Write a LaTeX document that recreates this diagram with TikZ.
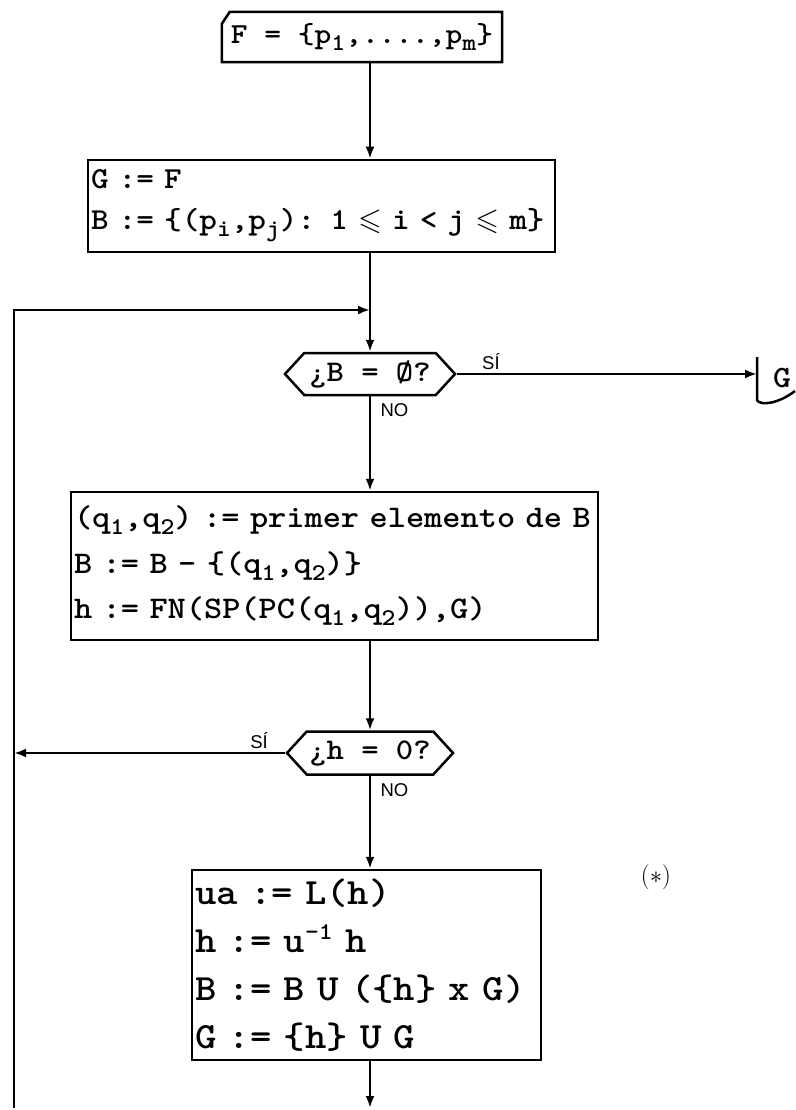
\documentclass[tikz,border=0pt]{standalone}
\usepackage{amsmath,amssymb}
\usepackage{fontspec}
\setsansfont{Liberation Sans}
\newfontfamily\typed{lmmonolt10-bold.otf}[FakeStretch=1.1]
\usepackage{tikz}
\usetikzlibrary{arrows.meta,positioning,shapes.symbols}

% typed indices and relation
\newcommand{\lowidx}[1]{\raisebox{-0.22em}{\fontsize{24}{24}\selectfont #1}}
\newcommand{\highidx}[1]{\raisebox{0.35em}{\fontsize{24}{24}\selectfont #1}}
\newcommand{\typedle}{\mbox{\boldmath$\leqslant$}}

\tikzset{
  stmt/.style={draw, line width=2.5pt, rectangle, align=left, inner xsep=3pt, inner ysep=0pt},
  test/.style={draw, line width=2.5pt, signal, signal to=west and east, signal pointer angle=95,
    inner sep=0pt, font=\typed\fontsize{30}{30}\selectfont},
  flow/.style={line width=2.5pt, -{Latex[length=12pt,width=9pt]}},
  answer/.style={font=\sffamily\fontsize{18.5}{18.5}\selectfont},
}

\begin{document}
\begin{tikzpicture}[x=1pt,y=-1pt]
    \useasboundingbox (0,0) rectangle (795,1110);
    % helper points
    \coordinate (axis) at (370,0);
    \coordinate (join) at (370,310);
    \coordinate (loopend) at (14,1108);
    \coordinate (exit) at (370,1108);
    \coordinate (gin) at (757,374);
    % Input
    \node[minimum width=280, minimum height=50, inner sep=0pt,
      font=\typed\fontsize{29}{29}\selectfont] (F) at (362,37)
      {F = \{p\lowidx{1},....,p\lowidx{m}\}};
    \draw[line width=2.5pt] ([shift={(0,12)}]F.north west) -- (F.south west) -- (F.south east)
      -- (F.north east) -- ([shift={(8,0)}]F.north west) -- cycle;
    % Initialisation
    \node[stmt, minimum width=467, minimum height=92, text width=461,
      font=\typed\fontsize{30.5}{41}\selectfont] (B2) at (321.5,206)
      {G := F\\B := \{(p\lowidx{i},p\lowidx{j}): 1 \typedle{} i < j \typedle{} m\}};
    % First test
    \node[test, minimum width=170, minimum height=42] (D1) at (370,374) {¿B = Ø?};
    % Pair step
    \node[stmt, minimum width=527, minimum height=148, text width=521,
      font=\typed\fontsize{31.5}{45.5}\selectfont] (B3) at (334.5,566)
      {(q\lowidx{1},q\lowidx{2}) := primer elemento de B\\
       B := B - \{(q\lowidx{1},q\lowidx{2})\}\\
       h := FN(SP(PC(q\lowidx{1},q\lowidx{2})),G)};
    % Second test
    \node[test, minimum width=166, minimum height=43] (D2) at (370,753) {¿h = 0?};
    % Update step
    \node[stmt, minimum width=349, minimum height=190, text width=343,
      font=\typed\fontsize{37}{48}\selectfont] (B4) at (366.5,965)
      {ua := L(h)\\
       h := u\highidx{-1} h\\
       B := B U (\{h\} x G)\\
       G := \{h\} U G};
    \node[font=\fontsize{24}{24}\selectfont] (mark) at (656,877) {$(\ast)$};
    % Output
    \node[font=\typed\fontsize{31}{31}\selectfont] (G) at (782,378) {G};
    \draw[line width=2.5pt] ([shift={(0,-17)}]gin) -- ([shift={(0,26)}]gin)
      .. controls ([shift={(3,32)}]gin) and ([shift={(21,30)}]gin) .. ([shift={(38,17)}]gin);
    % Flow
    \draw[flow] (F.south -| axis) -- (B2.north -| axis);
    \draw[flow] (B2.south -| axis) -- (D1.north);
    \draw[flow] (loopend) |- (join);
    \draw[flow] (D1.east) -- (gin);
    \node[answer, anchor=south west] (si1) at ([shift={(22,-1)}]D1.east) {SÍ};
    \draw[flow] (D1.south) -- (B3.north -| D1);
    \node[answer, anchor=north west] (no1) at ([shift={(7,4)}]D1.south) {NO};
    \draw[flow] (B3.south -| axis) -- (D2.north);
    \draw[flow] (D2.west) -- (D2.west -| loopend);
    \node[answer, anchor=south east] (si2) at ([shift={(-14,-1)}]D2.west) {SÍ};
    \draw[flow] (D2.south) -- (B4.north -| D2);
    \node[answer, anchor=north west] (no2) at ([shift={(7,4)}]D2.south) {NO};
    \draw[flow] (B4.south -| axis) -- (exit);
\end{tikzpicture}
\end{document}
